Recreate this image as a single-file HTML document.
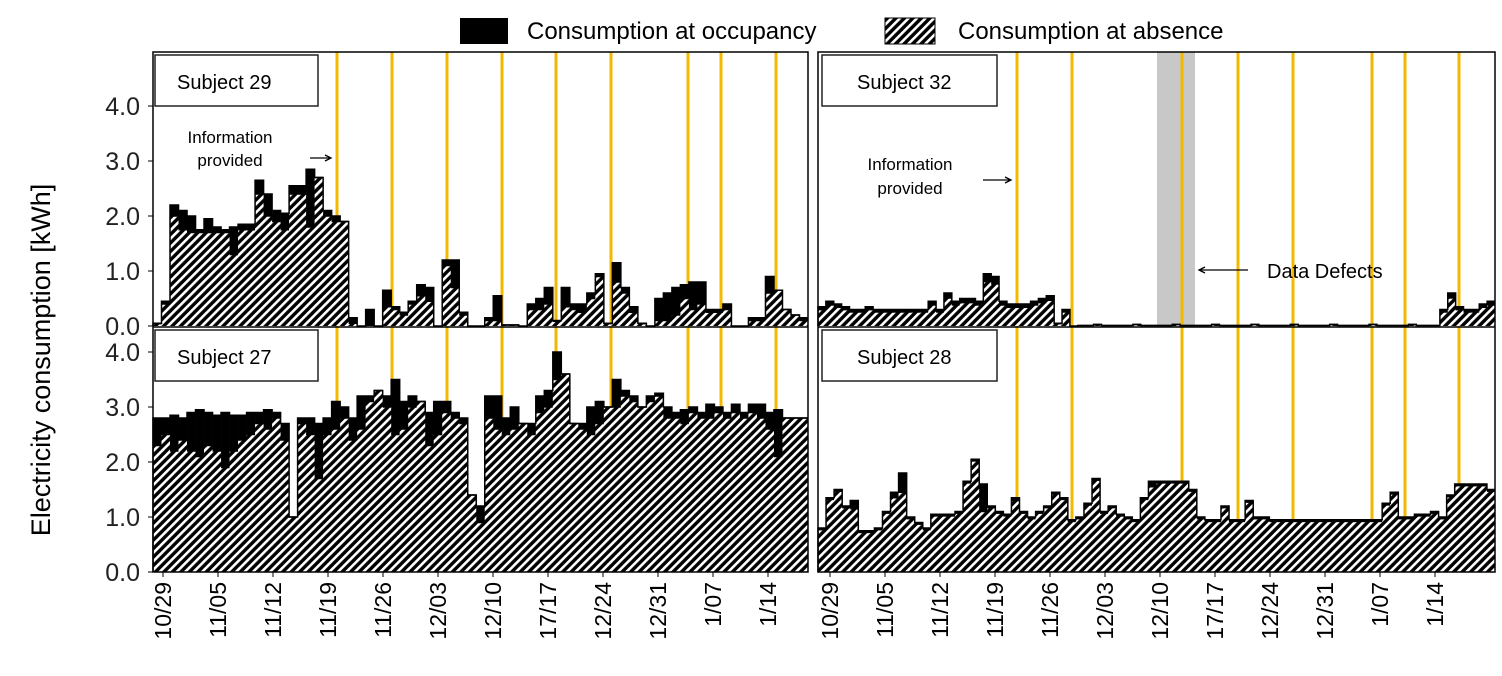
<!DOCTYPE html>
<html><head><meta charset="utf-8"><style>
html,body{margin:0;padding:0;background:#fff;}
svg{display:block;font-family:"Liberation Sans",sans-serif;}
</style></head><body>
<svg id="s" width="1502" height="676" viewBox="0 0 1502 676" xmlns="http://www.w3.org/2000/svg">
<defs>
<pattern id="h" patternUnits="userSpaceOnUse" width="6" height="6" patternTransform="rotate(45)">
<rect width="6" height="6" fill="#000"/><rect x="0" y="0" width="2.6" height="6" fill="#fff"/>
</pattern>
</defs>
<g id="g"></g>
</svg>
<script>
var NS="http://www.w3.org/2000/svg",g=document.getElementById('g');
function el(t,a,txt){var e=document.createElementNS(NS,t);for(var k in a)e.setAttribute(k,a[k]);if(txt!==undefined)e.textContent=txt;g.appendChild(e);return e;}
// legend
el('rect',{x:460,y:18,width:48,height:26,fill:'#000'});
el('text',{x:527,y:39,'font-size':24},'Consumption at occupancy');
el('rect',{x:885,y:18,width:50,height:26,fill:'url(#h)',stroke:'#000','stroke-width':1});
el('text',{x:958,y:39,'font-size':24},'Consumption at absence');
// gray band
el('rect',{x:1157,y:52,width:38,height:275,fill:'#c8c8c8'});
var OR='#f5b800';
var oL=[337,392,447,502,556,611,688,721,776],oR=[1017,1072,1182,1238,1293,1372,1405,1459];
oL.forEach(function(x){el('line',{x1:x,y1:52,x2:x,y2:572,stroke:OR,'stroke-width':3});});
oR.forEach(function(x){el('line',{x1:x,y1:52,x2:x,y2:572,stroke:OR,'stroke-width':3});});
function bars(x0,w,y0,data){var bw=w/data.length;data.forEach(function(d,i){var t=d[0],a=d.length>1?d[1]:d[0]*0.85;var x=x0+i*bw;
 if(t>0){el('rect',{x:x,y:y0-t*55,width:bw+0.3,height:(t-a)*55,fill:'#000'});}
 if(a>0){el('rect',{x:x,y:y0-a*55,width:bw+0.3,height:a*55,fill:'url(#h)'});el('path',{d:'M'+x+' '+(y0-a*55)+'h'+bw,stroke:'#000','stroke-width':1.5});}
 });
 // outline
 var p='M'+x0+' '+y0;data.forEach(function(d,i){var x=x0+i*bw;p+='L'+x+' '+(y0-d[0]*55)+'L'+(x+bw)+' '+(y0-d[0]*55);});
 el('path',{d:p,fill:'none',stroke:'#000','stroke-width':1.5});}
var s29=[[0.05],[0.45,0.4],[2.2,2.0],[2.1,1.75],[2.0,1.7],[1.75,1.7],[1.95,1.7],[1.8,1.7],[1.75,1.7],[1.8,1.3],[1.85,1.75],[1.85,1.75],[2.65,2.4],[2.4,2.0],[2.1,1.9],[2.05,1.75],[2.55,2.4],[2.55,2.4],[2.85,1.8],[2.7,2.7],[2.1,2.0],[2.0,1.9],[1.9,1.9],[0.15,0.05],[0],[0.3,0],[0],[0.65,0.35],[0.35,0.3],[0.25,0.2],[0.45,0.4],[0.75,0.55],[0.7,0.45],[0],[1.2,1.1],[1.2,0.7],[0.25,0.2],[0],[0],[0.15,0.1],[0.55,0.1],[0.02],[0.02],[0],[0.4,0.3],[0.5,0.3],[0.7,0.4],[0.1],[0.7,0.35],[0.4,0.3],[0.4,0.25],[0.6,0.5],[0.95,0.9],[0.05],[1.15,0.8],[0.7,0.6],[0.35,0.25],[0.05],[0],[0.5,0.1],[0.6,0.1],[0.7,0.2],[0.75,0.5],[0.8,0.3],[0.8,0.4],[0.3,0.25],[0.3,0.25],[0.4,0.3],[0],[0],[0.15,0.1],[0.15,0.1],[0.9,0.6],[0.65,0.65],[0.3,0.3],[0.2,0.2],[0.15,0.1]];
var s27=[[2.8,2.3],[2.8,2.5],[2.85,2.2],[2.8,2.4],[2.9,2.2],[2.95,2.1],[2.9,2.3],[2.85,2.2],[2.9,1.9],[2.85,2.2],[2.85,2.4],[2.9,2.5],[2.9,2.7],[2.95,2.6],[2.9,2.8],[2.7,2.4],[1.0,1.0],[2.8,2.7],[2.8,2.5],[2.7,1.7],[2.8,2.5],[3.1,2.6],[3.0,2.8],[2.8,2.4],[3.2,2.6],[3.2,3.1],[3.3,3.3],[3.2,3.0],[3.5,2.5],[3.1,2.6],[3.2,3.0],[3.1,3.1],[2.9,2.3],[3.1,2.5],[3.1,2.9],[2.9,2.8],[2.8,2.7],[1.4,1.4],[1.2,0.9],[3.2,2.8],[3.2,2.6],[2.8,2.5],[3.0,2.6],[2.7,2.7],[2.7,2.5],[3.2,2.9],[3.3,3.0],[4.0,3.5],[3.6,3.6],[2.7,2.7],[2.7,2.6],[3.0,2.5],[3.1,2.7],[3.0,3.0],[3.5,3.0],[3.3,3.2],[3.2,3.1],[3.0,3.0],[3.2,3.1],[3.25,3.2],[3.0,2.8],[2.9,2.8],[2.95,2.7],[3.0,2.9],[2.9,2.8],[3.05,2.8],[3.0,2.9],[2.9,2.8],[3.05,2.9],[2.9,2.8],[3.05,2.9],[3.05,2.8],[2.9,2.6],[2.95,2.1],[2.8,2.8],[2.8,2.8],[2.8,2.8]];
var v32=[0.35,0.45,0.4,0.35,0.3,0.3,0.35,0.3,0.3,0.3,0.3,0.3,0.3,0.3,0.45,0.3,0.6,0.45,0.5,0.5,0.45,0.95,0.9,0.45,0.4,0.4,0.4,0.45,0.5,0.55,0.05,0.3,0];
while(v32.length<79)v32.push(v32.length%5==0?0.03:0.01);
v32=v32.concat([0.3,0.6,0.35,0.3,0.3,0.4,0.45]);
var s32=v32.map(function(v){return [v,v*0.85];});
var v28=[0.8,1.35,1.5,1.2,1.3,0.75,0.75,0.8,1.1,1.45,1.8,1.0,0.9,0.8,1.05,1.05,1.05,1.1,1.65,2.05,1.6,1.2,1.1,1.05,1.35,1.1,1.0,1.1,1.2,1.45,1.35,0.95,1.0,1.25,1.7,1.1,1.2,1.05,1.0,0.95,1.35,1.65,1.65,1.65,1.65,1.65,1.5,1.0,0.95,0.95,1.2,0.95,0.95,1.3,1.0,1.0,0.95,0.95,0.95,0.95,0.95,0.95,0.95,0.95,0.95,0.95,0.95,0.95,0.95,0.95,1.25,1.45,1.0,1.0,1.05,1.05,1.1,1.0,1.4,1.6,1.6,1.6,1.6,1.5];
var blk={4:0.15,10:0.35,20:0.5,9:0.1,24:0.05,41:0.1};
var s28=v28.map(function(v,i){return [v,v-(blk[i]||0.03)];});
bars(153,655,326,s29);bars(153,655,572,s27);bars(818,677,326,s32);bars(818,677,572,s28);
// frames
[[153,808],[818,1495]].forEach(function(p){el('rect',{x:p[0],y:52,width:p[1]-p[0],height:520,fill:'none',stroke:'#000','stroke-width':1.5});el('line',{x1:p[0],y1:327,x2:p[1],y2:327,stroke:'#000','stroke-width':1.5});});
// y ticks
[[326,0],[572,0]].forEach(function(b){for(var k=0;k<=4;k++){var y=b[0]-k*55;el('line',{x1:148,y1:y,x2:153,y2:y,stroke:'#000'});el('text',{x:140,y:y+9,'font-size':25,'text-anchor':'end',fill:'#222'},k+'.0');}});
el('text',{x:0,y:0,'font-size':27,'text-anchor':'middle',transform:'translate(50,360) rotate(-90)'},'Electricity consumption  [kWh]');
// x labels
var lb=['10/29','11/05','11/12','11/19','11/26','12/03','12/10','17/17','12/24','12/31','1/07','1/14'];
lb.forEach(function(t,i){[163,830].forEach(function(x0){var x=x0+i*55;el('line',{x1:x,y1:572,x2:x,y2:577,stroke:'#000'});el('text',{x:0,y:0,'font-size':23,'text-anchor':'end',transform:'translate('+(x+8)+',582) rotate(-90)'},t);});});
// subject boxes
[[155,55,'Subject  29'],[822,55,'Subject  32'],[155,330,'Subject  27'],[822,330,'Subject  28']].forEach(function(b){el('rect',{x:b[0],y:b[1],width:(b[0]<500?163:175),height:51,fill:'#fff',stroke:'#222','stroke-width':1.5});el('text',{x:b[0]+(b[0]<500?22:35),y:b[1]+34,'font-size':20},b[2]);});
// annotations
el('text',{x:230,y:143,'font-size':17,'text-anchor':'middle'},'Information');
el('text',{x:230,y:166,'font-size':17,'text-anchor':'middle'},'provided');
el('path',{d:'M310 158H330M325 155L331 158L325 161',stroke:'#000',fill:'none','stroke-width':1.3});
el('text',{x:910,y:170,'font-size':17,'text-anchor':'middle'},'Information');
el('text',{x:910,y:194,'font-size':17,'text-anchor':'middle'},'provided');
el('path',{d:'M983 180H1010M1005 177L1011 180L1005 183',stroke:'#000',fill:'none','stroke-width':1.3});
el('text',{x:1267,y:278,'font-size':20},'Data  Defects');
el('path',{d:'M1248 270H1200M1205 267L1199 270L1205 273',stroke:'#000',fill:'none','stroke-width':1.3});
</script>
</body></html>
